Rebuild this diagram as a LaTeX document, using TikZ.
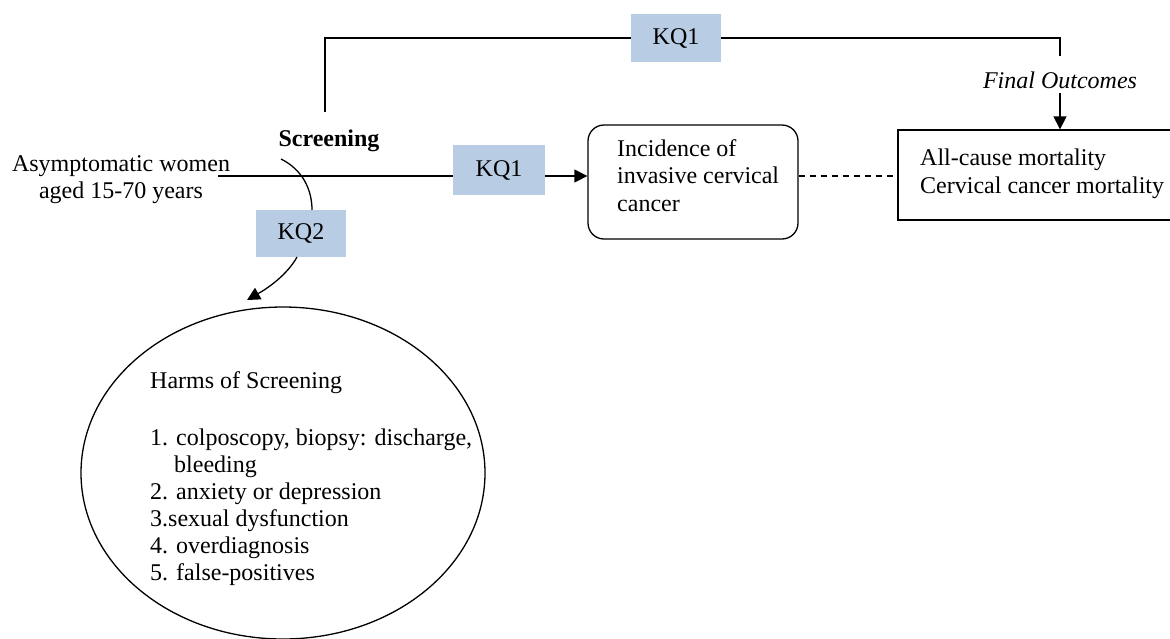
\documentclass[tikz,border=0pt]{standalone}
\usepackage{fontspec}
\setmainfont{Liberation Serif}
\usetikzlibrary{arrows.meta,shapes.geometric}
\definecolor{kqblue}{HTML}{B8CCE4}
\newcommand{\fsz}{\fontsize{24}{27.6}\selectfont}
\newcommand{\fsl}{\fontsize{24}{27}\selectfont}
\begin{document}
\begin{tikzpicture}[x=1pt,y=-1pt,
  conn/.style={line width=1.3pt},
  tip/.style={-{Triangle[width=13pt,length=13pt]}},
  kqbox/.style={fill=kqblue,minimum width=90pt,minimum height=48pt,inner sep=0pt,font=\fsz},
  txt/.style={inner sep=0pt,font=\fsz},
  boxline/.style={draw,line width=1.3pt,inner sep=0pt}
  ]
\useasboundingbox (0,0) rectangle (1170,638);
% text nodes
\node[txt,anchor=north,align=center] (women) at (121,155) {Asymptomatic women\\aged 15-70 years};
\node[txt,anchor=base,font=\fsz\bfseries] (screen) at (329,146) {Screening};
\node[txt,anchor=base,font=\fsz\itshape] (final) at (1060,88) {Final Outcomes};
% KQ boxes
\node[kqbox] (kq1top) at (676,38) {KQ1};
\node[kqbox,minimum width=92pt,minimum height=50pt] (kq1) at (499,170) {KQ1};
\node[kqbox,minimum height=47pt] (kq2) at (301,233.5) {KQ2};
% outcome boxes
\node[boxline,rounded corners=16pt,minimum width=210pt,minimum height=114pt] (inc) at (693,182) {};
\node[txt,anchor=north west,align=left] (inctext) at (617,139) {Incidence of\\invasive cervical\\cancer};
\node[boxline,minimum width=282pt,minimum height=90pt] (mort) at (1039,175) {};
\node[txt,anchor=north west,align=left] (morttext) at (920,148.6) {All-cause mortality\\Cervical cancer mortality};
% harms ellipse
\node[boxline,ellipse,minimum width=404pt,minimum height=332pt] (harms) at (283,473) {};
\node[txt,anchor=north west,align=left,font=\fsl] (harmstext) at (150,371) {Harms of Screening\\[30pt]1. colposcopy, biopsy: discharge,\\\hspace*{24pt}bleeding\\2. anxiety or depression\\3.sexual dysfunction\\4. overdiagnosis\\5. false-positives};
% coordinates
\coordinate (start) at (218,176);
\coordinate (tl) at (325,112);
\coordinate (tr) at (1060,56);
\coordinate (fo) at (1060,93);
\coordinate (arcA) at (281,159);
\coordinate (kq2in) at (312,210);
\coordinate (kq2out) at (297,257);
\coordinate (harmsin) at (247,300);
% connectors
\draw[conn] (start) -- (start -| kq1.west);
\draw[conn,tip] (start -| kq1.east) -- (start -| inc.west);
\draw[conn,dash pattern=on 6pt off 5pt] (start -| inc.east) -- (start -| mort.west);
\draw[conn] (tl) -- (tl |- kq1top.west) -- (kq1top.west);
\draw[conn] (kq1top.east) -- (kq1top.east -| tr) -- (tr);
\draw[conn,tip] (fo) -- (fo |- mort.north);
\draw[conn] (arcA) .. controls (303,170) and (312,190) .. (kq2in);
\draw[conn,tip] (kq2out) .. controls (287,275) and (268,288) .. (harmsin);
\end{tikzpicture}
\end{document}
